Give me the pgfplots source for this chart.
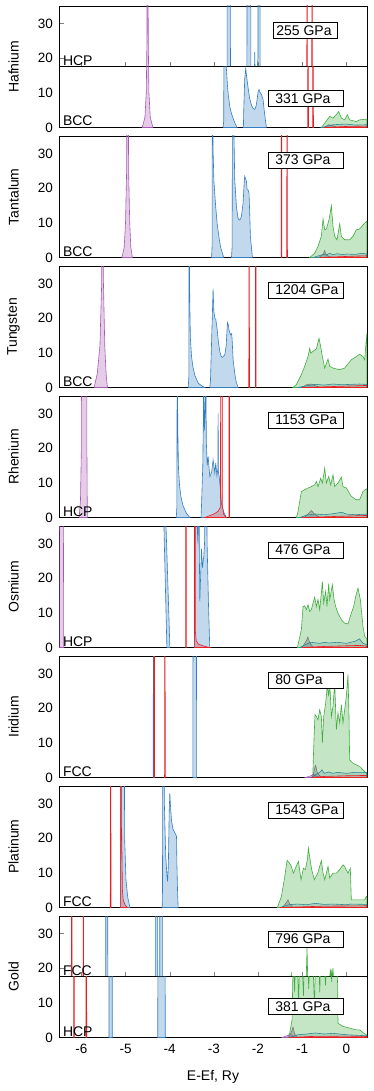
\documentclass[border=0pt]{standalone}
\usepackage{fontspec}
\setmainfont{Liberation Sans}
\usepackage{pgfplots}
\pgfplotsset{compat=1.18}
\definecolor{cPur}{RGB}{168,88,180}
\definecolor{cBlu}{RGB}{52,126,192}
\definecolor{cGrn}{RGB}{64,172,64}
\definecolor{cRed}{RGB}{232,30,35}
\definecolor{cGry}{RGB}{120,120,120}
\definecolor{cTea}{RGB}{50,135,150}
\tikzset{
  gpabox/.style={draw, fill=white, line width=0.7pt, anchor=west, inner xsep=7pt, inner ysep=0pt,
    minimum height=16pt, font=\fontsize{14}{16}\selectfont},
  phase/.style={anchor=base west, inner sep=0pt, xshift=3.5pt, yshift=1.5pt, font=\fontsize{14}{16}\selectfont},
}
\pgfplotsset{
  dos/.style={scale only axis, width=307.7pt, xmin=-6.5, xmax=0.47, anchor=north west,
    major tick length=0pt, xtick={-6,-5,-4,-3,-2,-1,0}, xticklabels={},
    ytick pos=left, xtick pos=bottom,
    axis line style={line width=0.7pt},
    y tick label style={font=\fontsize{13.5}{15}\selectfont, xshift=-3pt},
    x tick label style={font=\fontsize{13.5}{15}\selectfont, yshift=-3.5pt},
    /pgf/number format/assume math mode=true, clip=true},
  full/.style={dos, height=121.5pt, ymin=0, ymax=35, ytick={0,10,20,30}},
  upper/.style={dos, height=60.75pt, ymin=17.5, ymax=35, ytick={20,30}, major tick length=5pt, ytick style={line width=0.6pt}},
  lower/.style={dos, height=60.75pt, ymin=0, ymax=17.5, ytick={0,10}},
  pur/.style={draw=cPur, fill=cPur, fill opacity=0.3, line width=0.6pt, mark=none},
  blu/.style={draw=cBlu, fill=cBlu, fill opacity=0.3, line width=0.6pt, mark=none},
  grn/.style={draw=cGrn, fill=cGrn, fill opacity=0.3, line width=0.6pt, mark=none},
  gry/.style={draw=cGry, fill=cGry, fill opacity=0.4, line width=0.6pt, mark=none},
  tea/.style={draw=cTea, fill=cTea, fill opacity=0.2, line width=0.6pt, mark=none},
  rlo/.style={draw=cRed, fill=cRed, fill opacity=0.2, line width=0.6pt, mark=none},
  rsp/.style={draw=cRed, fill=cRed, fill opacity=0.25, line width=0.6pt, mark=none},
}
\newcommand{\gpa}[2]{\node[gpabox] at (rel axis cs:0.678,#1) {\makebox[61pt][l]{#2}};}
\newcommand{\phs}[1]{\node[phase] at (rel axis cs:0,0) {#1};}
\begin{document}
\begin{tikzpicture}
\useasboundingbox (0,0) rectangle (374pt,-1091pt);
% ---------------- Hafnium HCP
\begin{axis}[upper, at={(59.3pt,-6pt)}]
\addplot[pur] coordinates {(-4.62,0)(-4.56,3)(-4.53,10)(-4.515,25)(-4.50,100)(-4.485,25)(-4.47,10)(-4.44,3)(-4.38,0)} \closedcycle;
\addplot[blu] coordinates {(-2.75,0)(-2.70,8)(-2.69,100)(-2.64,100)(-2.62,8)(-2.55,3)(-2.40,4)(-2.30,8)(-2.25,15)(-2.245,100)(-2.225,100)(-2.22,40)(-2.19,100)(-2.17,100)(-2.16,15)(-2.10,14)(-2.08,16)(-2.073,21.7)(-2.065,16)(-2.03,15)(-2.0,20)(-1.995,100)(-1.96,100)(-1.95,10)(-1.9,0)} \closedcycle;
\addplot[rsp] coordinates {(-0.895,0)(-0.890,100)(-0.884,100)(-0.879,0)} \closedcycle;
\addplot[rsp] coordinates {(-0.782,0)(-0.777,100)(-0.771,100)(-0.766,0)} \closedcycle;
\phs{HCP}
\node[gpabox, inner xsep=3.3pt] at (rel axis cs:0.6935,0.597) {\makebox[58pt][l]{255 GPa}};
\end{axis}
% ---------------- Hafnium BCC
\begin{axis}[lower, at={(59.3pt,-66.75pt)}]
\addplot[grn] coordinates {(-0.564,0)(-0.488,1.25)(-0.375,3.2)(-0.300,2.7)(-0.224,3.7)(-0.172,4.6)(-0.111,2.7)(-0.036,2.2)(0.024,3.7)(0.077,2.2)(0.228,1.7)(0.303,2.2)(0.454,2.4)(0.47,2.4)} \closedcycle;
\addplot[gry] coordinates {(-0.5,0)(-0.4,0.8)(-0.3,0.5)(-0.2,0)} \closedcycle;
\addplot[tea] coordinates {(-0.55,0)(-0.3,0.8)(0,1)(0.2,0.7)(0.47,0.8)} \closedcycle;
\addplot[rlo] coordinates {(-0.5,0)(0,0.3)(0.47,0.4)} \closedcycle;
\addplot[pur] coordinates {(-4.62,0)(-4.56,3)(-4.53,10)(-4.515,25)(-4.50,100)(-4.485,25)(-4.47,10)(-4.44,3)(-4.38,0)} \closedcycle;
\addplot[blu] coordinates {(-2.79,0)(-2.775,2)(-2.77,40)(-2.74,25)(-2.715,17)(-2.69,12)(-2.676,9.9)(-2.638,6)(-2.60,4)(-2.563,2.7)(-2.52,1.2)(-2.473,0)} \closedcycle;
\addplot[blu] coordinates {(-2.33,0)(-2.322,5)(-2.30,14)(-2.277,17)(-2.26,15)(-2.224,11.5)(-2.19,8.5)(-2.149,6.5)(-2.11,5.5)(-2.073,5.2)(-2.04,6.3)(-2.020,8)(-1.995,10.5)(-1.975,10.9)(-1.95,10)(-1.922,9.6)(-1.884,8)(-1.85,4)(-1.809,0)} \closedcycle;
\addplot[rsp] coordinates {(-0.872,0)(-0.867,100)(-0.861,100)(-0.856,0)} \closedcycle;
\addplot[rsp] coordinates {(-0.759,0)(-0.754,100)(-0.748,100)(-0.743,0)} \closedcycle;
\phs{BCC}
\gpa{0.473}{331 GPa}
\end{axis}
% ---------------- Tantalum
\begin{axis}[full, at={(59.3pt,-136pt)}]
\addplot[grn] coordinates {(-0.827,0)(-0.714,1.25)(-0.640,3.2)(-0.564,6.1)(-0.526,11.1)(-0.488,8)(-0.451,8.2)(-0.390,10.9)(-0.338,14.9)(-0.300,8.9)(-0.262,6.1)(-0.209,5.1)(-0.149,9.7)(-0.111,6.1)(-0.036,5.1)(0.077,5.1)(0.153,6.1)(0.228,8)(0.303,8.2)(0.379,9.4)(0.454,10.4)(0.47,10.5)} \closedcycle;
\addplot[gry] coordinates {(-0.62,0)(-0.52,1)(-0.49,2)(-0.46,1)(-0.40,0.3)(-0.3,0)} \closedcycle;
\addplot[tea] coordinates {(-0.75,0)(-0.6,0.6)(-0.5,0.9)(-0.45,0.7)(-0.38,1.2)(-0.3,0.8)(-0.2,1.1)(-0.1,0.8)(0,1)(0.2,0.9)(0.35,1.2)(0.47,1)} \closedcycle;
\addplot[rlo] coordinates {(-0.6,0)(-0.2,0.2)(0.2,0.4)(0.47,0.5)} \closedcycle;
\addplot[pur] coordinates {(-5.08,0)(-5.03,3)(-5.0,10)(-4.975,25)(-4.953,100)(-4.93,25)(-4.905,10)(-4.88,3)(-4.845,0)} \closedcycle;
\addplot[blu] coordinates {(-3.05,0)(-3.04,3)(-3.035,50)(-3.015,30)(-2.998,22)(-2.960,15)(-2.922,9.5)(-2.885,6)(-2.847,3)(-2.80,1)(-2.775,0)} \closedcycle;
\addplot[blu] coordinates {(-2.60,0)(-2.586,3)(-2.575,50)(-2.55,40)(-2.526,22.4)(-2.488,14.7)(-2.455,11.5)(-2.428,10.8)(-2.40,11)(-2.375,11.8)(-2.337,15.7)(-2.31,22)(-2.300,23.4)(-2.262,22)(-2.245,19.5)(-2.224,19.5)(-2.202,18.5)(-2.185,12)(-2.171,6)(-2.126,0)} \closedcycle;
\addplot[rsp] coordinates {(-1.476,0)(-1.471,100)(-1.465,100)(-1.460,0)} \closedcycle;
\addplot[rsp] coordinates {(-1.348,0)(-1.343,100)(-1.337,100)(-1.332,0)} \closedcycle;
\phs{BCC}
\gpa{0.802}{373 GPa}
\end{axis}
% ---------------- Tungsten
\begin{axis}[full, at={(59.3pt,-266pt)}]
\addplot[grn] coordinates {(-1.206,0)(-1.131,0.8)(-1.017,3.7)(-0.942,6.1)(-0.866,8.9)(-0.828,11.3)(-0.806,9.9)(-0.753,10.4)(-0.677,11.1)(-0.617,14.2)(-0.587,12.3)(-0.541,8.9)(-0.488,5.6)(-0.413,8.2)(-0.375,6.1)(-0.300,5.6)(-0.149,5.1)(-0.036,5.6)(0.039,6.8)(0.115,8)(0.228,8.9)(0.303,9.6)(0.379,8.9)(0.417,8)(0.454,13.8)(0.47,15.7)} \closedcycle;
\addplot[gry] coordinates {(-1.0,0)(-0.9,0.8)(-0.8,1)(-0.7,0.5)(-0.6,0)} \closedcycle;
\addplot[tea] coordinates {(-1.1,0)(-0.9,0.5)(-0.7,0.9)(-0.5,0.7)(-0.3,1)(-0.1,0.8)(0.1,0.9)(0.3,1)(0.47,0.9)} \closedcycle;
\addplot[rlo] coordinates {(-1.0,0)(-0.5,0.2)(0,0.4)(0.47,0.6)} \closedcycle;
\addplot[pur] coordinates {(-5.71,0)(-5.64,4)(-5.58,12)(-5.54,30)(-5.519,100)(-5.50,30)(-5.47,12)(-5.44,4)(-5.41,0)} \closedcycle;
\addplot[blu] coordinates {(-3.58,0)(-3.566,3)(-3.56,50)(-3.545,25)(-3.53,14)(-3.505,9)(-3.475,6)(-3.43,3.5)(-3.35,1.2)(-3.25,0.3)(-3.205,0)} \closedcycle;
\addplot[blu] coordinates {(-3.09,0)(-3.076,2)(-3.04,18)(-3.016,28.4)(-3.0,22)(-2.975,19.8)(-2.956,19.7)(-2.926,17)(-2.895,13)(-2.866,10.5)(-2.835,9)(-2.805,8.7)(-2.752,9.4)(-2.72,12)(-2.692,18.7)(-2.67,18)(-2.654,16.5)(-2.624,15.2)(-2.596,15.5)(-2.586,14)(-2.563,8)(-2.52,3.5)(-2.49,1.5)(-2.45,0)} \closedcycle;
\addplot[rsp] coordinates {(-2.208,0)(-2.203,100)(-2.197,100)(-2.192,0)} \closedcycle;
\addplot[rsp] coordinates {(-2.057,0)(-2.052,100)(-2.046,100)(-2.041,0)} \closedcycle;
\phs{BCC}
\gpa{0.802}{1204 GPa}
\end{axis}
% ---------------- Rhenium
\begin{axis}[full, at={(59.3pt,-396pt)}]
\addplot[grn] coordinates {(-1.130,0)(-1.093,1.7)(-1.017,7.5)(-0.942,8)(-0.866,8.5)(-0.790,8.9)(-0.715,9.4)(-0.677,10.4)(-0.640,8.9)(-0.579,11.3)(-0.541,9.9)(-0.488,14.2)(-0.451,9.9)(-0.398,11.8)(-0.353,9.4)(-0.300,12.3)(-0.262,8.9)(-0.187,9.9)(-0.111,11.6)(-0.074,8.9)(0.002,8.5)(0.115,6.1)(0.228,5.1)(0.303,5.1)(0.379,7.5)(0.454,8.2)(0.47,8.2)} \closedcycle;
\addplot[gry] coordinates {(-0.95,0)(-0.85,1.2)(-0.79,2)(-0.72,1)(-0.6,0)} \closedcycle;
\addplot[tea] coordinates {(-1.05,0)(-0.9,0.7)(-0.7,1)(-0.5,0.8)(-0.3,1.1)(-0.1,1.5)(0.0,1)(0.2,0.8)(0.47,1)} \closedcycle;
\addplot[rlo] coordinates {(-1.0,0)(-0.5,0.2)(0,0.4)(0.47,0.6)} \closedcycle;
\addplot[pur] coordinates {(-6.05,0)(-6.02,5)(-6.0,20)(-5.99,100)(-5.88,100)(-5.875,20)(-5.865,0)} \closedcycle;
\addplot[blu] coordinates {(-3.85,0)(-3.837,3)(-3.83,50)(-3.815,25)(-3.80,14)(-3.775,9)(-3.745,6)(-3.70,3.5)(-3.62,1.2)(-3.543,0)} \closedcycle;
\addplot[blu] coordinates {(-3.29,0)(-3.28,3)(-3.25,15)(-3.235,30)(-3.227,50)(-3.215,25)(-3.195,30)(-3.182,50)(-3.17,22)(-3.150,15)(-3.129,17.6)(-3.091,11.8)(-3.05,13)(-3.016,16.6)(-2.99,14)(-2.978,12.8)(-2.956,15.7)(-2.93,12)(-2.908,14)(-2.903,30)(-2.895,13)(-2.880,12)(-2.85,8)(-2.827,4)(-2.775,1.5)(-2.714,0)} \closedcycle;
\addplot[rsp] coordinates {(-3.20,0)(-3.10,0.5)(-3.0,1)(-2.90,1.8)(-2.85,3)(-2.84,100)(-2.805,100)(-2.80,3)(-2.78,1)(-2.72,0)} \closedcycle;
\addplot[rsp] coordinates {(-2.660,0)(-2.655,100)(-2.649,100)(-2.644,0)} \closedcycle;
\phs{HCP}
\gpa{0.802}{1153 GPa}
\end{axis}
% ---------------- Osmium
\begin{axis}[full, at={(59.3pt,-526pt)}]
\addplot[grn] coordinates {(-1.107,0)(-1.017,5.1)(-0.979,11.8)(-0.942,12)(-0.904,10.9)(-0.866,12.3)(-0.828,10.4)(-0.790,10.9)(-0.753,12.8)(-0.715,14.5)(-0.677,11.8)(-0.640,13.8)(-0.602,10.9)(-0.564,15.7)(-0.541,19)(-0.511,12.8)(-0.466,16.2)(-0.436,11.8)(-0.398,18.4)(-0.375,13.8)(-0.315,18.1)(-0.277,13.8)(-0.240,11.8)(-0.187,9.9)(-0.111,8)(-0.036,7)(0.039,6.8)(0.115,9.9)(0.168,11.8)(0.213,14.7)(0.266,17.1)(0.319,13.8)(0.379,6.1)(0.417,3.2)(0.454,2.7)(0.47,2.6)} \closedcycle;
\addplot[gry] coordinates {(-1.0,0)(-0.9,2)(-0.87,3)(-0.83,1.5)(-0.75,0)} \closedcycle;
\addplot[tea] coordinates {(-1.05,0)(-0.9,1)(-0.8,1.5)(-0.6,1.2)(-0.5,1.5)(-0.4,1.3)(-0.2,1.5)(0,1.2)(0.2,1.8)(0.3,2.5)(0.38,1.2)(0.47,0.8)} \closedcycle;
\addplot[rlo] coordinates {(-1.0,0)(-0.5,0.3)(0,0.5)(0.3,0.6)(0.47,0.4)} \closedcycle;
\addplot[pur] coordinates {(-6.5,0)(-6.49,100)(-6.42,100)(-6.40,0)} \closedcycle;
\addplot[blu] coordinates {(-4.063,0)(-4.140,40)(-4.095,40)(-3.995,0)} \closedcycle;
\addplot[rsp] coordinates {(-3.639,0)(-3.634,100)(-3.628,100)(-3.623,0)} \closedcycle;
\addplot[blu] coordinates {(-3.44,0)(-3.43,30)(-3.425,100)(-3.40,100)(-3.393,40)(-3.36,30)(-3.341,100)(-3.33,30)(-3.317,13.3)(-3.30,20)(-3.280,28.4)(-3.257,23)(-3.240,25)(-3.227,26.3)(-3.21,30)(-3.189,100)(-3.17,60)(-3.152,30)(-3.12,12)(-3.092,0)} \closedcycle;
\addplot[rsp] coordinates {(-3.44,0)(-3.432,100)(-3.425,100)(-3.42,5)(-3.40,2)(-3.35,1)(-3.25,0.5)(-3.1,0)} \closedcycle;
\phs{HCP}
\gpa{0.802}{476 GPa}
\end{axis}
% ---------------- Iridium
\begin{axis}[full, at={(59.3pt,-656pt)}]
\addplot[grn] coordinates {(-0.76,0)(-0.731,10.9)(-0.708,18.1)(-0.677,17.6)(-0.640,16.6)(-0.602,19.5)(-0.564,17.6)(-0.541,9.9)(-0.511,17.6)(-0.466,21.4)(-0.428,26.7)(-0.398,23.4)(-0.375,27.7)(-0.338,17.6)(-0.300,20.5)(-0.262,27.2)(-0.224,13.8)(-0.187,18.6)(-0.149,15.7)(-0.111,21)(-0.074,15.7)(-0.036,19.5)(0.002,23.4)(0.039,29.6)(0.062,17.6)(0.077,5.1)(0.153,4.1)(0.303,3.2)(0.379,2.2)(0.454,1.25)(0.47,1)} \closedcycle;
\addplot[pur] coordinates {(-0.92,0)(-0.8,0.5)(-0.74,1)(-0.7,0.5)(-0.6,0)} \closedcycle;
\addplot[gry] coordinates {(-0.76,0)(-0.71,3)(-0.692,3.5)(-0.66,1.5)(-0.6,0.5)(-0.55,0)} \closedcycle;
\addplot[tea] coordinates {(-0.8,0)(-0.7,0.8)(-0.6,1.5)(-0.55,2.2)(-0.5,1.2)(-0.4,1.6)(-0.3,1.2)(-0.2,1.5)(0,1.2)(0.2,1.5)(0.47,1.5)} \closedcycle;
\addplot[rlo] coordinates {(-0.8,0)(-0.5,0.3)(0,0.5)(0.47,0.6)} \closedcycle;
\addplot[blu] coordinates {(-4.372,0)(-4.367,100)(-4.362,100)(-4.358,0)} \closedcycle;
\addplot[rsp] coordinates {(-4.357,0)(-4.352,100)(-4.346,100)(-4.341,0)} \closedcycle;
\addplot[rsp] coordinates {(-4.116,0)(-4.111,100)(-4.105,100)(-4.100,0)} \closedcycle;
\addplot[blu] coordinates {(-3.475,0)(-3.468,100)(-3.395,100)(-3.39,0)} \closedcycle;
\phs{FCC}
\gpa{0.802}{80 GPa}
\end{axis}
% ---------------- Platinum
\begin{axis}[full, at={(59.3pt,-786pt)}]
\addplot[grn] coordinates {(-1.559,0)(-1.469,3.2)(-1.393,8.9)(-1.340,13.6)(-1.288,12.8)(-1.250,12)(-1.197,9.9)(-1.137,11.8)(-1.084,13.3)(-1.024,8)(-0.971,11.3)(-0.926,10.9)(-0.881,13.8)(-0.858,17.1)(-0.820,13.8)(-0.783,10.9)(-0.722,8)(-0.646,9.9)(-0.564,13.5)(-0.526,9.9)(-0.488,8)(-0.413,11.8)(-0.375,8.5)(-0.300,9.9)(-0.224,9.9)(-0.149,10.9)(-0.074,12.3)(-0.036,11.8)(0.039,9.9)(0.092,11.3)(0.115,2.2)(0.417,2.2)(0.454,3.2)(0.47,3.2)} \closedcycle;
\addplot[gry] coordinates {(-1.45,0)(-1.35,1.5)(-1.32,2.2)(-1.28,1)(-1.2,0)} \closedcycle;
\addplot[tea] coordinates {(-1.5,0)(-1.3,0.8)(-1.1,1)(-0.9,0.8)(-0.7,1.2)(-0.5,0.9)(-0.3,1)(0,0.8)(0.1,1)(0.47,0.9)} \closedcycle;
\addplot[rlo] coordinates {(-1.5,0)(-1,0.2)(-0.5,0.4)(0.47,0.5)} \closedcycle;
\addplot[rsp] coordinates {(-5.345,0)(-5.340,100)(-5.334,100)(-5.329,0)} \closedcycle;
\addplot[blu] coordinates {(-5.11,0)(-5.104,100)(-5.04,100)(-5.02,20)(-4.99,8)(-4.95,3)(-4.90,0)} \closedcycle;
\addplot[rsp] coordinates {(-5.11,0)(-5.105,100)(-5.10,100)(-5.095,24)(-5.085,20)(-5.07,5)(-5.05,2)(-5.0,0.5)(-4.95,0)} \closedcycle;
\addplot[blu] coordinates {(-4.17,0)(-4.162,5)(-4.155,100)(-4.14,60)(-4.12,30)(-4.09,15)(-4.06,9)(-4.048,7.5)(-4.03,12)(-4.01,28)(-3.996,33)(-3.985,30)(-3.958,25)(-3.921,22.4)(-3.868,21.2)(-3.845,20.5)(-3.835,12)(-3.82,4)(-3.807,0)} \closedcycle;
\phs{FCC}
\gpa{0.802}{1543 GPa}
\end{axis}
% ---------------- Gold FCC
\begin{axis}[upper, at={(59.3pt,-916pt)}]
\addplot[grn] coordinates {(-1.35,0)(-1.26,12)(-1.243,18.8)(-1.23,12)(-1.1,11)(-0.95,14)(-0.91,16)(-0.888,25.8)(-0.87,15)(-0.80,16.5)(-0.75,13)(-0.60,15)(-0.45,14)(-0.38,16)(-0.36,19.8)(-0.345,15)(-0.33,19.5)(-0.315,16)(-0.30,20)(-0.28,14)(-0.2,5)(0,3)(0.47,1)} \closedcycle;
\addplot[rsp] coordinates {(-6.227,0)(-6.222,100)(-6.216,100)(-6.211,0)} \closedcycle;
\addplot[rsp] coordinates {(-5.963,0)(-5.958,100)(-5.952,100)(-5.947,0)} \closedcycle;
\addplot[blu] coordinates {(-5.45,0)(-5.443,100)(-5.406,100)(-5.40,0)} \closedcycle;
\addplot[blu] coordinates {(-4.325,0)(-4.320,100)(-4.275,100)(-4.27,0)} \closedcycle;
\addplot[blu] coordinates {(-4.225,0)(-4.222,100)(-4.169,100)(-4.165,0)} \closedcycle;
\phs{FCC}
\gpa{0.621}{796 GPa}
\end{axis}
% ---------------- Gold HCP
\begin{axis}[lower, at={(59.3pt,-976.75pt)}, xticklabels={-6,-5,-4,-3,-2,-1,0}]
\addplot[grn] coordinates {(-1.33,0)(-1.281,1.25)(-1.228,5.1)(-1.206,20)(-1.19,22)(-1.17,13)(-1.15,22)(-1.10,20)(-1.08,9)(-1.06,21)(-1.0,22)(-0.97,12)(-0.95,22)(-0.88,25)(-0.85,14)(-0.83,22)(-0.75,20)(-0.72,9)(-0.70,21)(-0.62,22)(-0.60,13)(-0.58,22)(-0.50,21)(-0.47,15)(-0.45,22)(-0.35,21)(-0.33,16)(-0.31,22)(-0.21,20)(-0.195,15)(-0.187,4.1)(-0.074,3.2)(0.077,2.7)(0.228,2.2)(0.303,2.2)(0.379,1.4)(0.454,0.8)(0.47,0.6)} \closedcycle;
\addplot[pur] coordinates {(-1.45,0)(-1.35,0.5)(-1.25,0.8)(-1.15,0)} \closedcycle;
\addplot[gry] coordinates {(-1.3,0)(-1.23,2)(-1.206,3)(-1.17,1)(-1.1,0)} \closedcycle;
\addplot[tea] coordinates {(-1.3,0)(-1.1,0.8)(-0.9,1)(-0.7,1.3)(-0.5,1)(-0.3,1.2)(0,0.8)(0.47,0.5)} \closedcycle;
\addplot[rlo] coordinates {(-1.3,0)(-0.8,0.3)(0,0.4)(0.47,0.3)} \closedcycle;
\addplot[rsp] coordinates {(-6.174,0)(-6.169,100)(-6.163,100)(-6.158,0)} \closedcycle;
\addplot[rsp] coordinates {(-5.895,0)(-5.890,100)(-5.884,100)(-5.879,0)} \closedcycle;
\addplot[blu] coordinates {(-5.375,0)(-5.368,100)(-5.308,100)(-5.30,0)} \closedcycle;
\addplot[blu] coordinates {(-4.27,0)(-4.26,100)(-4.11,100)(-4.10,0)} \closedcycle;
\phs{HCP}
\gpa{0.506}{381 GPa}
\end{axis}
% ---------------- labels
\foreach \y/\t in {66.75/Hafnium,196.75/Tantalum,326.75/Tungsten,456.75/Rhenium,586.75/Osmium,716.75/Iridium,846.75/Platinum,976.75/Gold}
  \node[rotate=90, font=\fontsize{14}{16}\selectfont] at (13.5pt,-\y pt) {\t};
\node[font=\fontsize{14}{16}\selectfont] at (213pt,-1077pt) {E-Ef, Ry};
\end{tikzpicture}
\end{document}
